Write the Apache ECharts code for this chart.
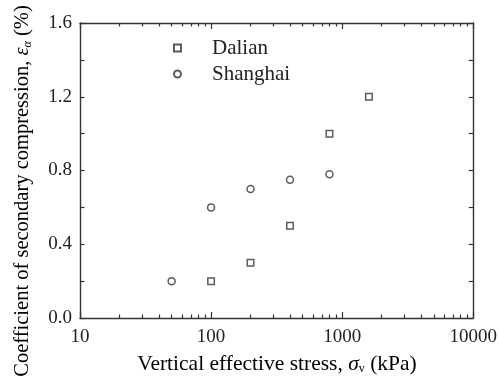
<!DOCTYPE html>
<html>
<head>
<meta charset="utf-8">
<style>
  html, body { margin: 0; padding: 0; background: #fff; }
  #chart { width: 500px; height: 382px; }
</style>
<script src="https://cdn.jsdelivr.net/npm/echarts@6/dist/echarts.min.js"></script>
</head>
<body>
<div id="chart"></div>
<script>
// Secondary compression coefficient vs. vertical effective stress
const dalianStress = [100, 200, 400, 800, 1600];
const dalianCoef = [0.2, 0.3, 0.5, 1.0, 1.2];
const shanghaiStress = [50, 100, 200, 400, 800];
const shanghaiCoef = [0.2, 0.6, 0.7, 0.75, 0.78];

const xMajorTicks = [10, 100, 1000, 10000];
const xMinorTicks = [
  20, 30, 40, 50, 60, 70, 80, 90,
  200, 300, 400, 500, 600, 700, 800, 900,
  2000, 3000, 4000, 5000, 6000, 7000, 8000, 9000
];

const FONT = '"Liberation Serif", "Times New Roman", serif';
const INK = '#333';
const TEXT = '#222';

function zip(xs, ys) { return xs.map((x, i) => [x, ys[i]]); }

const lineStyle = { color: INK, width: 1.4 };

function xAxisDef(position, kind) {
  const major = kind === 'major';
  return {
    type: 'log',
    logBase: 10,
    min: 10,
    max: 10000,
    position: position,
    axisLine: { show: major, lineStyle: lineStyle },
    axisTick: {
      show: true,
      inside: true,
      length: major ? 6 : 3.5,
      customValues: major ? xMajorTicks : xMinorTicks,
      lineStyle: { color: INK, width: 1.2 }
    },
    axisLabel: {
      show: major && position === 'bottom',
      customValues: xMajorTicks,
      margin: 10,
      fontFamily: FONT,
      fontSize: 19,
      color: TEXT,
      formatter: v => String(Math.round(v))
    },
    splitLine: { show: false },
    minorTick: { show: false }
  };
}

function yAxisDef(position) {
  const left = position === 'left';
  return {
    type: 'value',
    min: 0,
    max: 1.6,
    interval: 0.4,
    position: position,
    axisLine: { show: true, lineStyle: lineStyle },
    axisTick: { show: true, inside: true, length: 4.5, lineStyle: { color: INK, width: 1.2 } },
    minorTick: { show: true, splitNumber: 2, length: 4.5, lineStyle: { color: INK, width: 1.2 } },
    axisLabel: {
      show: left,
      margin: 8,
      fontFamily: FONT,
      fontSize: 19,
      color: TEXT,
      formatter: v => v.toFixed(1)
    },
    splitLine: { show: false }
  };
}

// Rich-text styles for the axis titles (italic symbol + subscript)
function titleRich(size) {
  const sub = Math.round(size * 0.57);
  return {
    t: { fontFamily: FONT, fontSize: size, color: TEXT },
    i: { fontFamily: FONT, fontSize: size, fontStyle: 'italic', color: TEXT },
    s: { fontFamily: FONT, fontSize: sub, color: TEXT, verticalAlign: 'bottom', padding: [10, 0, 0, 0] },
    si: { fontFamily: FONT, fontSize: sub, fontStyle: 'italic', color: TEXT, verticalAlign: 'bottom', padding: [10, 0, 0, 0] }
  };
}

const markerStyle = { color: '#fff', borderColor: INK, borderWidth: 1.5 };

const chart = echarts.init(document.getElementById('chart'), null, { renderer: 'canvas' });
chart.setOption({
  animation: false,
  backgroundColor: '#fff',
  grid: { left: 80, right: 18, top: 23, bottom: 64 },
  legend: {
    orient: 'vertical',
    left: 168,
    top: 32,
    itemWidth: 7,
    itemHeight: 7,
    itemGap: 4,
    textStyle: { fontFamily: FONT, fontSize: 21, lineHeight: 22, color: TEXT, padding: [0, 0, 0, 26] },
    data: [
      { name: 'Dalian', icon: 'rect' },
      { name: 'Shanghai', icon: 'circle' }
    ]
  },
  xAxis: [
    xAxisDef('bottom', 'major'),
    xAxisDef('bottom', 'minor'),
    xAxisDef('top', 'major'),
    xAxisDef('top', 'minor')
  ],
  yAxis: [yAxisDef('left'), yAxisDef('right')],
  graphic: [
    {
      type: 'text',
      x: 277,
      y: 364,
      style: {
        text: '{t|Vertical effective stress, }{i|σ}{s|v}{t| (kPa)}',
        rich: titleRich(21.5),
        align: 'center',
        verticalAlign: 'middle'
      }
    },
    {
      type: 'text',
      x: 23,
      y: 191,
      rotation: Math.PI / 2,
      style: {
        text: '{t|Coefficient of secondary compression, }{i|ε}{si|α}{t| (%)}',
        rich: titleRich(20.5),
        align: 'center',
        verticalAlign: 'middle'
      }
    }
  ],
  series: [
    {
      name: 'Dalian',
      type: 'scatter',
      symbol: 'rect',
      symbolSize: 6.5,
      itemStyle: markerStyle,
      data: zip(dalianStress, dalianCoef)
    },
    {
      name: 'Shanghai',
      type: 'scatter',
      symbol: 'circle',
      symbolSize: 7,
      itemStyle: markerStyle,
      data: zip(shanghaiStress, shanghaiCoef)
    }
  ]
});
</script>
</body>
</html>
